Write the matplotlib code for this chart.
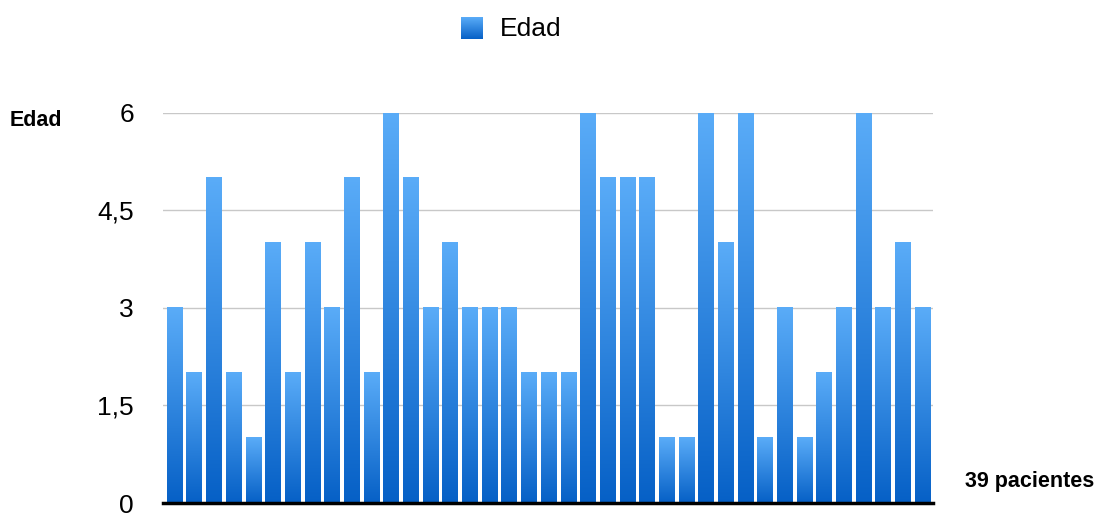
import numpy as np
import matplotlib
matplotlib.use("Agg")
import matplotlib.pyplot as plt
from matplotlib.colors import LinearSegmentedColormap

# Edad de cada paciente (39 pacientes)
edades = [3, 2, 5, 2, 1, 4, 2, 4, 3, 5, 2, 6, 5, 3, 4, 3, 3, 3, 2, 2,
          2, 6, 5, 5, 5, 1, 1, 6, 4, 6, 1, 3, 1, 2, 3, 6, 3, 4, 3]
yticks = [0, 1.5, 3, 4.5, 6]
ytick_labels = ["0", "1,5", "3", "4,5", "6"]
serie = "Edad"

plt.rcParams['font.family'] = ['Liberation Sans', 'DejaVu Sans']

# gradient: dark blue at the bottom, light blue on top
cmap = LinearSegmentedColormap.from_list("azul", ["#0660c6", "#5aacf8"])
grad = np.linspace(0, 1, 256).reshape(-1, 1)

fig = plt.figure(figsize=(10.98, 5.14), dpi=100)
ax = fig.add_axes([0.1485, 0.0214, 0.7012, 0.7592])

n = len(edades)
x = np.arange(n)
width = 0.78
bars = ax.bar(x, edades, width=width, color='none', edgecolor='none', zorder=2)
for b in bars:
    x0 = b.get_x()
    h = b.get_height()
    ax.imshow(grad, extent=[x0, x0 + b.get_width(), 0, h], origin='lower',
              aspect='auto', cmap=cmap, zorder=2, interpolation='bilinear')

ax.set_xlim(-0.58, n - 1 + 0.53)
ax.set_ylim(0, 6)
ax.set_yticks(yticks)
ax.set_yticklabels(ytick_labels, fontsize=19)
ax.tick_params(axis='y', length=0, pad=21)
ax.set_xticks([])
ax.yaxis.grid(True, color='#c8c8c8', linewidth=1, zorder=0)
ax.set_axisbelow(True)
for s in ['top', 'right', 'left']:
    ax.spines[s].set_visible(False)
ax.spines['bottom'].set_color('black')
ax.spines['bottom'].set_linewidth(2.5)
ax.spines['bottom'].set_zorder(3)

# axis titles
fig.text(10 / 1098, 1 - 120 / 514, "Edad", fontsize=15.5, fontweight='bold',
         ha='left', va='center')
fig.text(965 / 1098, 1 - 481 / 514, "39 pacientes", fontsize=15.5,
         fontweight='bold', ha='left', va='center')

# legend with gradient swatch
lax = fig.add_axes([461 / 1098, 1 - 39 / 514, 22 / 1098, 22 / 514])
lax.imshow(grad, origin='lower', aspect='auto', cmap=cmap,
           extent=[0, 1, 0, 1])
lax.axis('off')
fig.text(500 / 1098, 1 - 29 / 514, serie, fontsize=19, ha='left', va='center')

fig.savefig("out.png", dpi=100)
